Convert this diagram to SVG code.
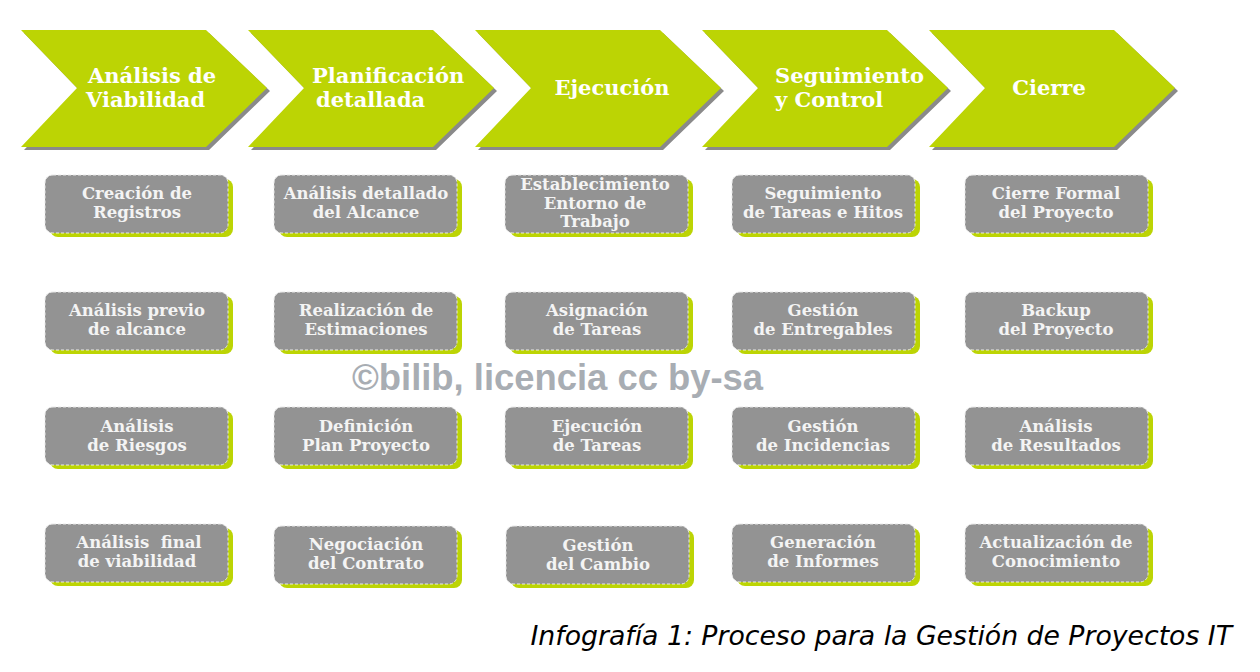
<svg xmlns="http://www.w3.org/2000/svg" width="1260" height="672" viewBox="0 0 1260 672">
<defs>
<style>
.chev{fill:#bcd404}
.chevsh{fill:#8a8a8a}
.ct{font-family:"DejaVu Serif",serif;font-weight:bold;font-size:21px;fill:#ffffff}
.box{fill:#939393;stroke:#e8e8e8;stroke-width:1;stroke-dasharray:3 2}
.boxsh{fill:#bcd404}
.bt{font-family:"DejaVu Serif",serif;font-weight:bold;font-size:16.5px;fill:#f4f4f4;text-anchor:middle}
.wm{font-family:"Liberation Sans",Arial,sans-serif;font-weight:bold;font-size:36.4px;fill:#a8adb3}
.cap{font-family:"DejaVu Sans",sans-serif;font-style:italic;font-size:26.7px;fill:#000000;text-anchor:end}
</style>
<polygon id="chevShape" points="0,0 185,0 246,58 185,117 0,117 56,58"/>
<rect id="boxShape" width="183" height="58" rx="8"/>
</defs>
<rect width="1260" height="672" fill="#ffffff"/>
<g id="phases">
<g id="phase1" transform="translate(21,30)">
<use href="#chevShape" class="chevsh" x="3" y="3"/>
<use href="#chevShape" class="chev"/>
<text class="ct" x="67" y="53">Análisis de</text>
<text class="ct" x="65" y="77">Viabilidad</text>
</g>
<g id="phase2" transform="translate(248,30)">
<use href="#chevShape" class="chevsh" x="3" y="3"/>
<use href="#chevShape" class="chev"/>
<text class="ct" x="64" y="53">Planificación</text>
<text class="ct" x="68" y="77">detallada</text>
</g>
<g id="phase3" transform="translate(475,30)">
<use href="#chevShape" class="chevsh" x="3" y="3"/>
<use href="#chevShape" class="chev"/>
<text class="ct" x="137" y="65" text-anchor="middle">Ejecución</text>
</g>
<g id="phase4" transform="translate(702,30)">
<use href="#chevShape" class="chevsh" x="3" y="3"/>
<use href="#chevShape" class="chev"/>
<text class="ct" x="73" y="53">Seguimiento</text>
<text class="ct" x="73" y="77">y Control</text>
</g>
<g id="phase5" transform="translate(929,30)">
<use href="#chevShape" class="chevsh" x="3" y="3"/>
<use href="#chevShape" class="chev"/>
<text class="ct" x="120" y="65" text-anchor="middle">Cierre</text>
</g>
</g>
<g id="connectors"></g>
<g id="tasks">
<!-- column 1 -->
<g id="t11" transform="translate(45,175)"><use href="#boxShape" class="boxsh" x="5" y="4"/><use href="#boxShape" class="box"/><text class="bt" x="92" y="24">Creación de</text><text class="bt" x="92" y="43">Registros</text></g>
<g id="t12" transform="translate(45,292)"><use href="#boxShape" class="boxsh" x="5" y="4"/><use href="#boxShape" class="box"/><text class="bt" x="92" y="24">Análisis previo</text><text class="bt" x="92" y="43">de alcance</text></g>
<g id="t13" transform="translate(45,407)"><use href="#boxShape" class="boxsh" x="5" y="4"/><use href="#boxShape" class="box"/><text class="bt" x="92" y="25">Análisis</text><text class="bt" x="92" y="44">de Riesgos</text></g>
<g id="t14" transform="translate(45,524)"><use href="#boxShape" class="boxsh" x="5" y="4"/><use href="#boxShape" class="box"/><text class="bt" x="94" y="24" xml:space="preserve">Análisis  final</text><text class="bt" x="92" y="43">de viabilidad</text></g>
<!-- column 2 -->
<g id="t21" transform="translate(274,175)"><use href="#boxShape" class="boxsh" x="5" y="4"/><use href="#boxShape" class="box"/><text class="bt" x="92" y="24">Análisis detallado</text><text class="bt" x="92" y="43">del Alcance</text></g>
<g id="t22" transform="translate(274,292)"><use href="#boxShape" class="boxsh" x="5" y="4"/><use href="#boxShape" class="box"/><text class="bt" x="92" y="24">Realización de</text><text class="bt" x="92" y="43">Estimaciones</text></g>
<g id="t23" transform="translate(274,407)"><use href="#boxShape" class="boxsh" x="5" y="4"/><use href="#boxShape" class="box"/><text class="bt" x="92" y="25">Definición</text><text class="bt" x="92" y="44">Plan Proyecto</text></g>
<g id="t24" transform="translate(274,526)"><use href="#boxShape" class="boxsh" x="5" y="4"/><use href="#boxShape" class="box"/><text class="bt" x="92" y="24">Negociación</text><text class="bt" x="92" y="43">del Contrato</text></g>
<!-- column 3 -->
<g id="t31" transform="translate(505,175)"><use href="#boxShape" class="boxsh" x="5" y="4"/><use href="#boxShape" class="box"/><text class="bt" x="90" y="15">Establecimiento</text><text class="bt" x="90" y="34">Entorno de</text><text class="bt" x="90" y="52">Trabajo</text></g>
<g id="t32" transform="translate(505,292)"><use href="#boxShape" class="boxsh" x="5" y="4"/><use href="#boxShape" class="box"/><text class="bt" x="92" y="24">Asignación</text><text class="bt" x="92" y="43">de Tareas</text></g>
<g id="t33" transform="translate(505,407)"><use href="#boxShape" class="boxsh" x="5" y="4"/><use href="#boxShape" class="box"/><text class="bt" x="92" y="25">Ejecución</text><text class="bt" x="92" y="44">de Tareas</text></g>
<g id="t34" transform="translate(506,526)"><use href="#boxShape" class="boxsh" x="5" y="4"/><use href="#boxShape" class="box"/><text class="bt" x="92" y="25">Gestión</text><text class="bt" x="92" y="44">del Cambio</text></g>
<!-- column 4 -->
<g id="t41" transform="translate(732,175)"><use href="#boxShape" class="boxsh" x="5" y="4"/><use href="#boxShape" class="box"/><text class="bt" x="91" y="24">Seguimiento</text><text class="bt" x="91" y="43">de Tareas e Hitos</text></g>
<g id="t42" transform="translate(732,292)"><use href="#boxShape" class="boxsh" x="5" y="4"/><use href="#boxShape" class="box"/><text class="bt" x="91" y="24">Gestión</text><text class="bt" x="91" y="43">de Entregables</text></g>
<g id="t43" transform="translate(732,407)"><use href="#boxShape" class="boxsh" x="5" y="4"/><use href="#boxShape" class="box"/><text class="bt" x="91" y="25">Gestión</text><text class="bt" x="91" y="44">de Incidencias</text></g>
<g id="t44" transform="translate(732,524)"><use href="#boxShape" class="boxsh" x="5" y="4"/><use href="#boxShape" class="box"/><text class="bt" x="91" y="24">Generación</text><text class="bt" x="91" y="43">de Informes</text></g>
<!-- column 5 -->
<g id="t51" transform="translate(965,175)"><use href="#boxShape" class="boxsh" x="5" y="4"/><use href="#boxShape" class="box"/><text class="bt" x="91" y="24">Cierre Formal</text><text class="bt" x="91" y="43">del Proyecto</text></g>
<g id="t52" transform="translate(965,292)"><use href="#boxShape" class="boxsh" x="5" y="4"/><use href="#boxShape" class="box"/><text class="bt" x="91" y="24">Backup</text><text class="bt" x="91" y="43">del Proyecto</text></g>
<g id="t53" transform="translate(965,407)"><use href="#boxShape" class="boxsh" x="5" y="4"/><use href="#boxShape" class="box"/><text class="bt" x="91" y="25">Análisis</text><text class="bt" x="91" y="44">de Resultados</text></g>
<g id="t54" transform="translate(965,524)"><use href="#boxShape" class="boxsh" x="5" y="4"/><use href="#boxShape" class="box"/><text class="bt" x="91" y="24">Actualización de</text><text class="bt" x="91" y="43">Conocimiento</text></g>
</g>
<text id="watermark" class="wm" x="352" y="390">©bilib, licencia cc by-sa</text>
<text id="caption" class="cap" x="1232" y="645">Infografía 1: Proceso para la Gestión de Proyectos IT</text>
</svg>
